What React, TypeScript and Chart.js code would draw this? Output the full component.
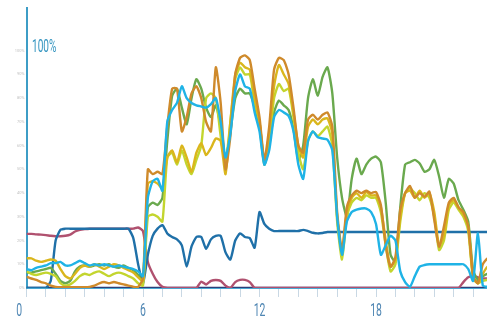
import React, { useEffect, useRef } from 'react';
import { Chart, registerables } from 'chart.js';
Chart.register(...registerables);

// x grid: quarter hours from 0 to 24
const HOURS: number[] = Array.from({ length: 97 }, (_, i) => i / 4);
const X_LABEL_HOURS = [0, 6, 12, 18, 24];
const Y_TICKS = [0, 10, 20, 30, 40, 50, 60, 70, 80, 90, 100];
const TOP_LABEL = '100%';

// each row = one hour (:00, :15, :30, :45); last value = 24:00
const DARK_BLUE = [
  0, 0, 0, 0,
  0, 3, 20, 24.5,
  25, 25, 25, 25,
  25, 25, 25, 25,
  25, 25, 25, 25,
  25, 25, 21, 10,
  2, 14, 22, 25,
  26.5, 23, 21.5, 20.5,
  18, 9, 17.5, 21.5,
  21.5, 16.5, 20.5, 22,
  22, 15, 12, 20,
  23, 21.5, 21, 17,
  32, 27, 25, 24,
  24, 24, 24, 24,
  24, 24.5, 24, 23.3,
  23, 23.2, 23.6, 23.6,
  23.6, 23.6, 23.6, 23.6,
  23.6, 23.6, 23.6, 23.6,
  23.6, 23.6, 23.6, 23.6,
  23.6, 23.6, 23.6, 23.6,
  23.6, 23.6, 23.6, 23.6,
  23.6, 23.6, 23.6, 23.6,
  23.6, 23.6, 23.6, 23.6,
  23.6, 23.6, 23.6, 23.6,
  23.6,
];

const NAVY = [
  0, 0, 0, 0, 0, 0, 0, 0, 0, 0, 0, 0, 0, 0, 0, 0,
  0, 0, 0, 0, 0, 0, 0, 0, 0, 0, 0, 0, 0, 0, 0, 0,
  0, 0, 0, 0, 0, 0, 0, 0, 0, 0, 0, 0, 0, 0, 0, 0,
  0, 0, 0, 0, 0, 0, 0, 0, 0, 0, 0, 0, 0, 0, 0, 0,
  0, 0, 0, 0, 0, 0, 0, 0, 0, 0, 0, 0, 0, 0, 0, 0,
  0, 0, 0, 0, 0, 0, 0, 0, 0, 0, 0, 0, 0, 0, 0, 0,
  0,
];

const CRIMSON = [
  22.8, 22.8, 22.6, 22.5,
  22.3, 22, 21.8, 21.8,
  22, 22.5, 23.8, 24.5,
  24.8, 25, 25, 25,
  25, 25, 25, 25,
  25, 25, 25, 25.5,
  24, 11, 6, 2.5,
  0.5, 0, 0, 0,
  0, 0, 0, 0,
  2.7, 1.5, 3, 3.4,
  3, 1, 0, 2.5,
  3.4, 3.4, 2.5, 0,
  0, 0, 0, 0,
  0, 0, 0, 0,
  0, 0, 0, 0,
  0, 0, 0, 0,
  0, 0, 0, 0,
  0, 0, 0, 0,
  0, 0, 0, 0,
  0, 0, 0, 0,
  0, 0, 0, 0,
  0, 0, 0, 0,
  0, 0, 2.5, 4.5,
  5, 4.5, 4, 4,
  4,
];

const CYAN = [
  8, 7.5, 8.5, 9,
  9.5, 10.5, 10.5, 11,
  9.5, 9.5, 10.5, 11.5,
  10.5, 9.5, 10, 9.5,
  10, 9.5, 9, 9.5,
  9, 8.5, 8, 7,
  5, 38, 45, 46,
  41, 70, 75, 78,
  85, 80, 78, 77,
  76.5, 76, 77.5, 80,
  70, 55, 65, 83,
  90, 85, 84, 74,
  66, 52, 58, 72,
  75, 74, 72.5, 66,
  52, 46, 62, 66,
  63.5, 63, 62.5, 58,
  30, 14, 28, 32,
  33, 33.5, 33.5, 32,
  27, 14, 18, 22,
  20, 7, 2.5, 0.5,
  5, 9, 9.7, 10,
  10, 10, 10, 10,
  10, 10, 10, 8,
  3, 23, 1, 0.5,
  0.5,
];

const GREEN = [
  6.5, 6.5, 7, 7.5,
  8, 8.5, 6, 3,
  2, 3, 7, 9,
  9.5, 9, 9.5, 10,
  9.5, 10, 9, 8.5,
  9.5, 8.5, 7.5, 5.5,
  3, 34, 36, 35,
  38, 62, 81, 84,
  76, 69, 80, 88,
  84, 76, 72, 77,
  68, 54, 66, 80,
  84, 82, 82, 76,
  68, 52, 60, 74,
  79, 77, 75, 67,
  54, 60, 80, 88,
  81, 89, 93, 82,
  55, 38, 30, 46,
  54.5, 48, 52, 54.5,
  55.4, 53, 36, 14,
  11, 34, 52, 53,
  54, 52.5, 49, 50,
  54, 47, 38, 46,
  44, 37, 33, 28,
  7.6, 3.4, 5, 6,
  6,
];

const LIME = [
  7, 6, 5.5, 6,
  6.5, 6, 5, 2,
  1, 1.5, 3, 5,
  6, 5.5, 6.5, 7,
  6, 5, 6, 6.5,
  6, 5, 4, 2,
  1, 30, 31, 30,
  28, 55, 57, 52,
  58, 52, 48, 54,
  60, 80, 82, 80,
  64, 53, 70, 88,
  93, 90, 90, 78,
  70, 53, 62, 80,
  86, 83, 84, 72,
  57, 50, 62, 66,
  64, 66, 68, 60,
  28, 12, 30, 36,
  38, 37, 39, 38,
  38, 32, 18, 7,
  10, 28, 40, 42,
  40, 37, 40, 38,
  30, 16, 20, 33,
  36, 33, 30, 24,
  4, 2, 3, 3.5,
  3.5,
];

const GOLD = [
  12.5, 12.5, 11.5, 11,
  11.5, 12, 11.5, 8,
  5, 4, 6, 8.5,
  9.5, 9, 10, 9,
  8, 9, 10, 9.5,
  8.5, 7.5, 6.5, 4.5,
  3, 44, 45, 44,
  42, 55, 58, 53,
  60, 55, 49, 57,
  61, 56, 59, 63,
  62, 48, 70, 90,
  95, 93, 92, 80,
  70, 53, 65, 85,
  94, 90, 86, 74,
  60, 55, 68, 71,
  69, 71, 71.5, 65,
  30, 15, 32, 38,
  40, 38, 40.5, 39,
  39, 34, 20, 9,
  12, 30, 40, 41,
  38, 41, 38, 40,
  32, 18, 22, 35,
  37, 34, 31, 26,
  5, 2, 6, 9,
  9,
];

const ORANGE = [
  4.8, 4, 3.4, 2.5,
  2, 1, 0.5, 0.3,
  0.3, 0.3, 0.3, 0.3,
  0.3, 0.5, 1, 2,
  2.5, 2, 2.5, 2,
  1.5, 1, 0.5, 0.5,
  4, 50, 48, 49,
  48, 68, 84, 84,
  66, 72, 82, 85,
  80, 70, 66, 93,
  78, 50, 64, 90,
  97, 98, 96, 84,
  72, 54, 68, 92,
  97, 96, 90, 76,
  60, 57, 71, 73,
  71, 73, 74, 68,
  32, 16, 34, 39,
  41, 40, 41, 40,
  40.5, 35, 18, 9,
  13, 33, 40, 43,
  38, 40, 38.5, 40.6,
  28.7, 17.4, 26, 36,
  38, 34, 32, 26,
  5, 2, 10, 12.5,
  12,
];

const SERIES = [
  { name: 'Cyan', values: CYAN, color: '#1fb3e6' },
  { name: 'Orange', values: ORANGE, color: '#cf8a2b' },
  { name: 'Gold', values: GOLD, color: '#dab61c' },
  { name: 'Lime', values: LIME, color: '#c3d52e' },
  { name: 'Green', values: GREEN, color: '#6aa94e' },
  { name: 'Dark blue', values: DARK_BLUE, color: '#1f70a8' },
  { name: 'Crimson', values: CRIMSON, color: '#b0516f' },
  { name: 'Navy', values: NAVY, color: '#2d3f78' },
];

// draws narrow (condensed) axis labels using the chart's own scales
const narrowLabelsPlugin = {
  id: 'narrowLabels',
  afterDraw(chart: any) {
    const { ctx, chartArea, scales } = chart;
    ctx.save();
    // x-axis hour labels
    ctx.fillStyle = '#4f86b3';
    ctx.font = '18px Roboto, sans-serif';
    ctx.textBaseline = 'alphabetic';
    X_LABEL_HOURS.forEach((h, i) => {
      const px = scales.x.getPixelForValue(h);
      ctx.save();
      ctx.translate(px, chartArea.bottom + 28);
      ctx.scale(0.58, 1);
      ctx.textAlign = i === 0 ? 'right' : 'center';
      ctx.fillText(String(h), i === 0 ? -7.5 : 0, 0);
      ctx.restore();
    });
    // 100% marker label
    const y = scales.y.getPixelForValue(100);
    ctx.fillStyle = '#3495c0';
    ctx.font = '19px Roboto, sans-serif';
    ctx.textAlign = 'left';
    ctx.translate(chartArea.left + 5.5, y + 1);
    ctx.scale(0.53, 1);
    ctx.fillText(TOP_LABEL, 0, 0);
    ctx.restore();
  },
};

export default function App() {
  const ref = useRef<HTMLCanvasElement | null>(null);
  useEffect(() => {
    if (!ref.current) return;
    const chart = new Chart(ref.current, {
      type: 'line',
      data: {
        datasets: SERIES.map((s) => ({
          label: s.name,
          data: HOURS.map((h, i) => ({ x: h, y: s.values[i] })),
          borderColor: s.color,
          backgroundColor: s.color,
          borderWidth: 2.4,
          pointRadius: 0,
          tension: 0.2,
          fill: false,
        })),
      },
      options: {
        animation: false,
        responsive: false,
        layout: { padding: { top: 8, right: 27.5, left: 0, bottom: 0 } },
        plugins: { legend: { display: false }, tooltip: { enabled: false } },
        scales: {
          x: {
            type: 'linear',
            min: 0,
            max: 24,
            afterFit: (scale: any) => { scale.height = 32; },
            grid: { drawOnChartArea: false, drawTicks: true, tickLength: 9, color: '#c9d8e4', lineWidth: 1 },
            border: { color: '#4aa8d3', width: 2 },
            ticks: {
              stepSize: 1,
              autoSkip: false,
              maxRotation: 0,
              padding: 2,
              callback: () => '',
            },
          },
          y: {
            min: 0,
            max: 118,
            afterFit: (scale: any) => { scale.width = 26.5; },
            afterBuildTicks: (scale: any) => { scale.ticks = Y_TICKS.map((v) => ({ value: v })); },
            grid: { drawOnChartArea: false, drawTicks: false },
            border: { color: '#3d9dc6', width: 2 },
            ticks: {
              padding: 2,
              color: '#c4c4c4',
              font: { size: 4, family: 'Roboto, sans-serif' },
              callback: (v: any) => v + '%',
            },
          },
        },
      },
      plugins: [narrowLabelsPlugin],
    });
    return () => chart.destroy();
  }, []);
  return (
    <div style={{ position: 'absolute', left: 0, top: 0, width: 487, height: 320, overflow: 'hidden', background: '#fff' }}>
      <canvas ref={ref} width={520} height={320} style={{ display: 'block' }} />
    </div>
  );
}
